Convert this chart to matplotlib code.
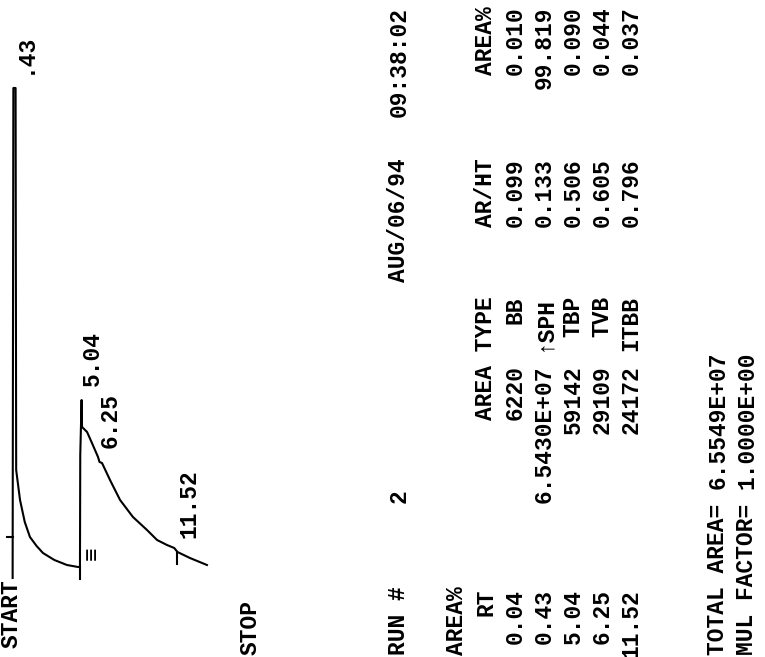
import numpy as np
import matplotlib
matplotlib.use("Agg")
import matplotlib.pyplot as plt

# strip-chart trace, time in min and detector signal in mV
trace_t = [0.38, 0.41, 0.43, 0.58, 0.62, 0.88, 1.20, 1.55, 2.00, 2.43, 3.20,
           4.05, 4.80, 4.93, 4.95, 5.04, 5.07, 5.41, 5.74, 6.15, 6.25, 6.42,
           6.96, 7.64, 8.51, 9.46, 10.14, 10.81, 11.30, 11.52, 12.36, 13.51]
trace_mv = [-0.3, 30.0, 48.7, 48.7, 10.5, 7.5, 5.3, 3.8, 2.9, 2.2, 1.5,
            1.0, 0.8, 0.8, 12.0, 17.5, 14.8, 14.3, 13.2, 11.8, 11.3, 11.2,
            9.5, 7.5, 5.8, 4.5, 3.5, 3.0, 2.7, 2.3, 1.7, 1.0]

# retention-time labels printed beside the trace
peak_rt = [0.43, 5.04, 6.25, 11.52]
peak_lbl = [".43", "5.04", "6.25", "11.52"]
# baseline event ticks
tick_t = [4.93, 11.52]

# report
run_no = "2"
run_date = "AUG/06/94"
run_time = "09:38:02"
rt = ["0.04", "0.43", "5.04", "6.25", "11.52"]
area = ["6220", "6.5430E+07", "59142", "29109", "24172"]
ptype = ["BB", "↑SPH", "TBP", "TVB", "ITBB"]
ar_ht = ["0.099", "0.133", "0.506", "0.605", "0.796"]
area_pct = ["0.010", "99.819", "0.090", "0.044", "0.037"]
total_area = "6.5549E+07"
mul_factor = "1.0000E+00"

MONO = ["Liberation Mono", "DejaVu Sans Mono"]
FS = 16.5
W, H = 765, 657

fig = plt.figure(figsize=(W / 100, H / 100), dpi=100)
fig.patch.set_facecolor("white")

# page in pixel units, used for the printed report lines
ax = fig.add_axes([0, 0, 1, 1])
ax.set_xlim(0, W)
ax.set_ylim(H, 0)
ax.axis("off")

# chromatogram: 14.8 px/min, 10 px/mV
x0, px_min, y0, px_mv = 7, 14.8, 575, 10
tmax, smax = 14, 50
axc = fig.add_axes([x0 / W, (H - y0) / H, tmax * px_min / W, smax * px_mv / H])
axc.set_xlim(0, tmax)
axc.set_ylim(0, smax)
axc.axis("off")

axc.plot(trace_t, trace_mv, color="black", lw=1.5, clip_on=False,
         solid_joinstyle="round")
for t in tick_t:
    s = np.interp(t, trace_t, trace_mv)
    axc.plot([t, t], [s, s - 1.2], color="black", lw=1.5, clip_on=False)
# start mark
axc.plot([0.0, 0.38], [3.8, 3.8], color="black", lw=1.5, clip_on=False)

for t, lab in zip(peak_rt, peak_lbl):
    s = np.interp(t, trace_t, trace_mv)
    axc.annotate(lab, xy=(t, s), xytext=(8, 10), textcoords="offset points",
                 rotation=90, ha="center", va="bottom", fontsize=FS,
                 family=MONO, weight="bold", annotation_clip=False)
s = np.interp(tick_t[0], trace_t, trace_mv)
axc.annotate("≡", xy=(tick_t[0], s), xytext=(9, 5), textcoords="offset points",
             rotation=90, ha="center", va="bottom", fontsize=FS,
             family=MONO, weight="bold", annotation_clip=False)

# printout: lines run up the page, one column of pixels per line
Y0 = 655     # left margin
P = 13.8     # character pitch


def put(x, col, s, end=False):
    ax.text(x, Y0 - col * P, s, rotation=90, ha="center",
            va="top" if end else "bottom", fontsize=FS, family=MONO,
            weight="bold")


put(11, 0.5, "START")
put(250, 0, "STOP")
put(399, 0, "RUN #")
put(399, 11, run_no)
put(399, 27, run_date)
put(399, 39, run_time)
put(457, 0, "AREA%")
put(486, 4.8, "RT", end=True)
put(486, 26, "AREA TYPE", end=True)
put(486, 36, "AR/HT", end=True)
put(486, 47, "AREA%", end=True)
for i in range(len(rt)):
    x = 515 + 29 * i
    put(x, 4.8, rt[i], end=True)
    put(x, 21, area[i], end=True)
    put(x, 26, ptype[i], end=True)
    put(x, 36, ar_ht[i], end=True)
    put(x, 47, area_pct[i], end=True)
put(718, 0, "TOTAL AREA=")
put(718, 12, total_area)
put(747, 0, "MUL FACTOR=")
put(747, 12, mul_factor)

fig.savefig("out.png", dpi=100, facecolor="white")
